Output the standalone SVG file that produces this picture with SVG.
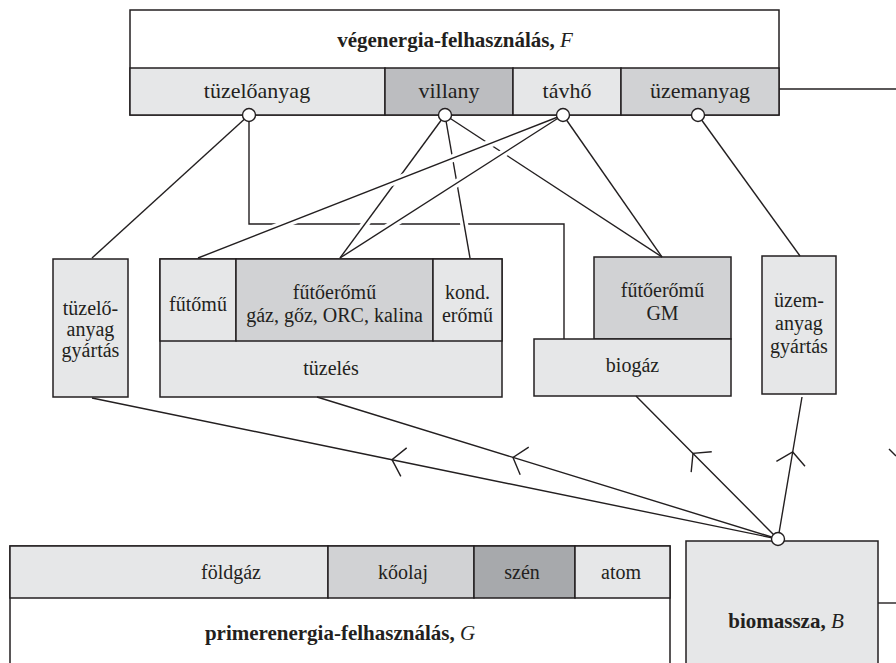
<svg xmlns="http://www.w3.org/2000/svg" width="896" height="663" viewBox="0 0 896 663">
<style>
text{font-family:"Liberation Serif","Times New Roman",serif;fill:#231f20;text-anchor:middle}
.t22{font-size:22px}
.t20{font-size:20px}
.ttl{font-size:21px;font-weight:bold}
.it{font-style:italic;font-weight:normal}
.box{stroke:#231f20;stroke-width:1.5}
.l1{fill:#e6e7e8}
.l2{fill:#d1d2d4}
.l3{fill:#bcbdc0}
.l4{fill:#a7a9ac}
.w{fill:#ffffff}
.ln{fill:none;stroke:#231f20;stroke-width:1.4}
.halo{fill:none;stroke:#ffffff;stroke-width:8}
.dot{fill:#ffffff;stroke:#231f20;stroke-width:1.4}
</style>
<defs>
<marker id="arr" markerUnits="userSpaceOnUse" orient="auto" overflow="visible" markerWidth="1" markerHeight="1" refX="0" refY="0">
<path d="M-12 -14.5 L0 0 L-12 14.5" fill="none" stroke="#231f20" stroke-width="1.4"/>
</marker>
</defs>

<g id="vegenergia">
<rect class="box w" x="130" y="10" width="649" height="105"/>
<text class="ttl" x="455" y="47">végenergia-felhasználás, <tspan class="it">F</tspan></text>
<rect class="box l1" x="130" y="68" width="255" height="47"/>
<rect class="box l3" x="385" y="68" width="128" height="47"/>
<rect class="box l1" x="513" y="68" width="108" height="47"/>
<rect class="box l2" x="621" y="68" width="158" height="47"/>
<text class="t22" x="257" y="98">tüzelőanyag</text>
<text class="t22" x="449" y="98">villany</text>
<text class="t22" x="567" y="98">távhő</text>
<text class="t22" x="700" y="98">üzemanyag</text>
</g>

<g id="tuzeloanyag-gyartas">
<rect class="box l1" x="53" y="259" width="75" height="138"/>
<text class="t20" x="90.5" y="315">tüzelő-</text>
<text class="t20" x="90.5" y="336">anyag</text>
<text class="t20" x="90.5" y="357">gyártás</text>
</g>

<g id="tuzeles">
<rect class="box l1" x="160" y="259" width="342" height="138"/>
<rect class="box l1" x="160" y="259" width="76" height="82"/>
<rect class="box l2" x="236" y="259" width="197" height="82"/>
<rect class="box l1" x="433" y="259" width="69" height="82"/>
<text class="t20" x="198" y="311">fűtőmű</text>
<text class="t20" x="334.5" y="299">fűtőerőmű</text>
<text class="t20" x="334.5" y="322">gáz, gőz, ORC, kalina</text>
<text class="t20" x="467.5" y="299">kond.</text>
<text class="t20" x="467.5" y="322">erőmű</text>
<text class="t20" x="331" y="375">tüzelés</text>
</g>

<g id="biogaz">
<rect class="box l2" x="594" y="257" width="137" height="82"/>
<rect class="box l1" x="534" y="339" width="197" height="57"/>
<text class="t20" x="662.5" y="297">fűtőerőmű</text>
<text class="t20" x="662.5" y="320">GM</text>
<text class="t20" x="632.5" y="372">biogáz</text>
</g>

<g id="uzemanyag-gyartas">
<rect class="box l1" x="762" y="256" width="74" height="138"/>
<text class="t20" x="799" y="307">üzem-</text>
<text class="t20" x="799" y="330">anyag</text>
<text class="t20" x="799" y="353">gyártás</text>
</g>

<g id="primerenergia">
<rect class="box w" x="10" y="546" width="660" height="130"/>
<rect class="box l1" x="10" y="546" width="318" height="52"/>
<rect class="box l2" x="328" y="546" width="146" height="52"/>
<rect class="box l4" x="474" y="546" width="101" height="52"/>
<rect class="box l1" x="575" y="546" width="95" height="52"/>
<text class="t20" x="231" y="579">földgáz</text>
<text class="t20" x="403" y="579">kőolaj</text>
<text class="t20" x="522" y="579">szén</text>
<text class="t20" x="621" y="579">atom</text>
<text class="ttl" x="340" y="640">primerenergia-felhasználás, <tspan class="it">G</tspan></text>
</g>

<g id="biomassza">
<rect class="box l1" x="686" y="541" width="192" height="130"/>
<text class="ttl" x="786" y="628">biomassza, <tspan class="it">B</tspan></text>
</g>

<g id="connectors">
<path class="ln" d="M249 115 L92 258"/>
<path class="ln" d="M249 115 V224 H564 V339"/>
<path class="halo" d="M429.3 136.5 L355.8 236.6"/>
<path class="ln" d="M445 115 L340 258"/>
<path class="halo" d="M448.6 136.5 L466.4 236.6"/>
<path class="ln" d="M445 115 L470 258"/>
<path class="ln" d="M445 115 L662 257"/>
<path class="halo" d="M526.5 129.3 L234.5 243.7"/>
<path class="ln" d="M563 115 L198 258"/>
<path class="halo" d="M540.7 129.3 L373.5 236.6"/>
<path class="ln" d="M563 115 L340 258"/>
<path class="ln" d="M563 115 L662 257"/>
<path class="ln" d="M698 115 L800 256"/>
<path class="ln" d="M779 89 H896"/>
<path class="ln" d="M878 603 H896"/>
<path class="ln" d="M889 449 L896 456"/>
<path class="ln" marker-mid="url(#arr)" d="M778 539 L392 459.7 L92 398"/>
<path class="ln" marker-mid="url(#arr)" d="M778 539 L513 457.4 L317 397"/>
<path class="ln" marker-mid="url(#arr)" d="M778 539 L693 453.4 L636 396"/>
<path class="ln" marker-mid="url(#arr)" d="M778 539 L792.7 452 L802 397"/>
<circle class="dot" cx="249" cy="115" r="6.5"/>
<circle class="dot" cx="445" cy="115" r="6.5"/>
<circle class="dot" cx="563" cy="115" r="6.5"/>
<circle class="dot" cx="698" cy="115" r="6.5"/>
<circle class="dot" cx="778" cy="539" r="6.5"/>
</g>
</svg>
